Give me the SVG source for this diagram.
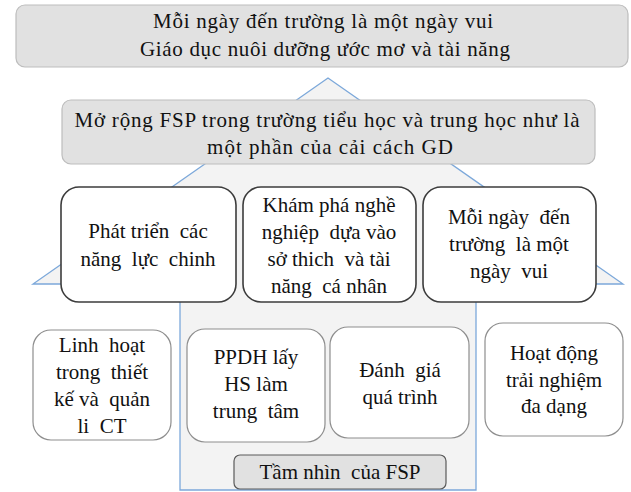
<svg xmlns="http://www.w3.org/2000/svg" width="631" height="492" viewBox="0 0 631 492">
<style>
text{font-family:"Liberation Serif","Times New Roman",serif;font-size:21px;fill:#111;text-anchor:middle;white-space:pre}
.banner{fill:#e1e1e1;stroke:#bdbdbd;stroke-width:1.2}
.pillar{fill:#fff;stroke:#3c3c3c;stroke-width:1.6}
.base{fill:#fff;stroke:#8e8e8e;stroke-width:1.2}
.label{fill:#e1e1e1;stroke:#5a5a5a;stroke-width:1.2}
.house{fill:#f3f3f3;stroke:#7ca8da;stroke-width:1.3}
</style>
<rect width="631" height="492" fill="#fff"/>
<g id="house-frame">
<polygon class="house" points="328,78 33,284 180,284 180,490 476,490 476,284 623,284"/>
</g>
<g id="connectors"></g>
<g id="top-banner">
<rect class="banner" x="16" y="5" width="612" height="62" rx="9"/>
<text x="323" y="28" textLength="340" lengthAdjust="spacing">Mỗi ngày đến trường là một ngày vui</text>
<text x="325" y="56" textLength="370" lengthAdjust="spacing">Giáo dục nuôi dưỡng ước mơ và tài năng</text>
</g>
<g id="second-banner">
<rect class="banner" x="62" y="100" width="533" height="64" rx="9"/>
<text x="327" y="127" textLength="505" lengthAdjust="spacing">Mở rộng FSP trong trường tiểu học và trung học như là</text>
<text x="330" y="154" textLength="246" lengthAdjust="spacing">một phần của cải cách GD</text>
</g>
<g id="pillar-1">
<rect class="pillar" x="61" y="187" width="175" height="115" rx="18"/>
<text x="148" y="238">Phát triển  các</text>
<text x="148" y="266">năng  lực  chinh</text>
</g>
<g id="pillar-2">
<rect class="pillar" x="243" y="187" width="173" height="115" rx="18"/>
<text x="329" y="212">Khám phá nghề</text>
<text x="329" y="239">nghiệp  dựa vào</text>
<text x="329" y="266">sở thich  và tài</text>
<text x="329" y="293">năng  cá nhân</text>
</g>
<g id="pillar-3">
<rect class="pillar" x="423" y="187" width="173" height="115" rx="18"/>
<text x="509" y="224">Mỗi ngày  đến</text>
<text x="509" y="251">trường  là một</text>
<text x="509" y="278">ngày  vui</text>
</g>
<g id="base-1">
<rect class="base" x="33" y="330" width="138" height="110" rx="18"/>
<text x="102" y="352">Linh  hoạt</text>
<text x="102" y="379">trong  thiết</text>
<text x="102" y="406">kế và  quản</text>
<text x="102" y="433">li  CT</text>
</g>
<g id="base-2">
<rect class="base" x="187" y="329" width="138" height="113" rx="18"/>
<text x="256" y="364">PPDH lấy</text>
<text x="256" y="391">HS làm</text>
<text x="256" y="418">trung  tâm</text>
</g>
<g id="base-3">
<rect class="base" x="330" y="327" width="139" height="111" rx="18"/>
<text x="400" y="377">Đánh  giá</text>
<text x="400" y="404">quá trình</text>
</g>
<g id="base-4">
<rect class="base" x="485" y="323" width="138" height="113" rx="18"/>
<text x="554" y="360">Hoạt động</text>
<text x="554" y="387">trải nghiệm</text>
<text x="554" y="413">đa dạng</text>
</g>
<g id="vision-label">
<rect class="label" x="234" y="455" width="212" height="34" rx="6"/>
<text x="340" y="479">Tầm nhìn  của FSP</text>
</g>
</svg>
